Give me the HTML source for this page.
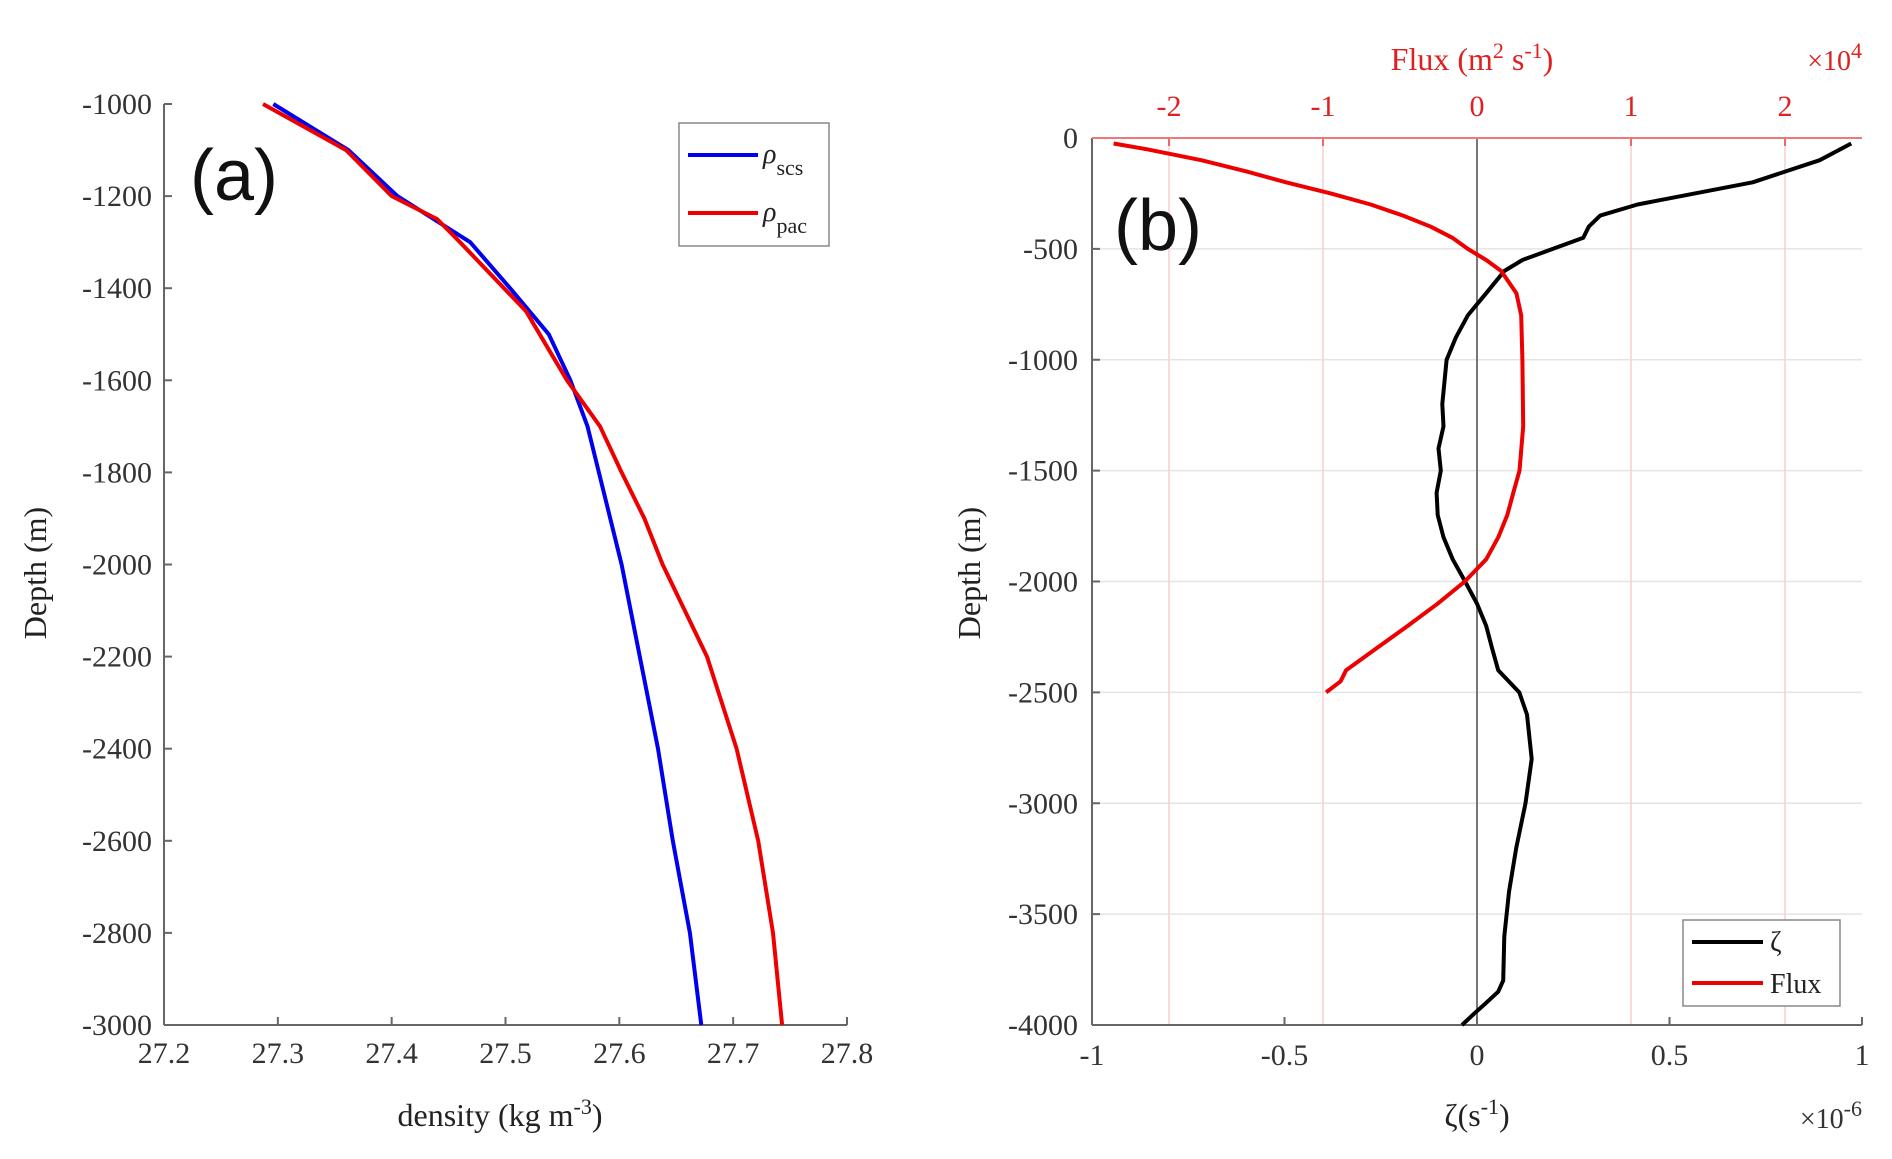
<!DOCTYPE html>
<html><head><meta charset="utf-8"><style>
html,body{margin:0;padding:0;background:#fff;}
svg{display:block;font-family:"Liberation Serif",serif;}
</style></head><body>
<svg id="c" width="1892" height="1159" viewBox="0 0 1892 1159"></svg>
<script>
// Panel (a) data
const depthA_scs = [-1000,-1100,-1200,-1300,-1400,-1500,-1600,-1700,-2000,-2200,-2400,-2600,-2800,-3000];
const rhoScs = [27.296,27.362,27.405,27.469,27.504,27.538,27.557,27.572,27.602,27.618,27.634,27.647,27.662,27.672];
const depthA_pac = [-1000,-1100,-1200,-1250,-1300,-1450,-1600,-1700,-1800,-1900,-2000,-2200,-2400,-2600,-2800,-3000];
const rhoPac = [27.287,27.36,27.40,27.44,27.46,27.518,27.554,27.583,27.602,27.622,27.638,27.677,27.703,27.722,27.735,27.743];
const aXTicks = [27.2,27.3,27.4,27.5,27.6,27.7,27.8];
const aYTicks = [-1000,-1200,-1400,-1600,-1800,-2000,-2200,-2400,-2600,-2800,-3000];
// Panel (b) data
const depthZeta = [-25,-100,-200,-300,-350,-400,-450,-500,-550,-600,-700,-800,-900,-1000,-1200,-1300,-1400,-1500,-1600,-1700,-1800,-1900,-2000,-2100,-2200,-2300,-2400,-2500,-2600,-2800,-3000,-3200,-3400,-3600,-3800,-3850,-3900,-3950,-4000];
const zeta = [0.972,0.89,0.716,0.417,0.32,0.29,0.276,0.197,0.118,0.071,0.024,-0.024,-0.055,-0.079,-0.09,-0.087,-0.1,-0.094,-0.105,-0.102,-0.087,-0.063,-0.031,0.0,0.024,0.039,0.055,0.11,0.13,0.142,0.126,0.102,0.083,0.071,0.068,0.055,0.024,-0.008,-0.039];
const depthFlux = [-25,-50,-100,-150,-200,-250,-300,-350,-400,-450,-500,-550,-600,-700,-800,-1000,-1300,-1500,-1600,-1700,-1800,-1900,-2000,-2100,-2200,-2300,-2400,-2450,-2500];
const flux = [-2.36,-2.15,-1.79,-1.5,-1.24,-0.95,-0.69,-0.48,-0.30,-0.16,-0.06,0.06,0.157,0.256,0.287,0.295,0.30,0.276,0.236,0.197,0.138,0.06,-0.079,-0.256,-0.45,-0.65,-0.85,-0.886,-0.98];
const bXTicks = [-1,-0.5,0,0.5,1];
const bXLabels = ['-1','-0.5','0','0.5','1'];
const bTopTicks = [-2,-1,0,1,2];
const bYTicks = [0,-500,-1000,-1500,-2000,-2500,-3000,-3500,-4000];

const svg = document.getElementById('c');
const NS = 'http://www.w3.org/2000/svg';
function mk(tag, attrs, parent){ const e=document.createElementNS(NS,tag); for(const k in attrs) e.setAttribute(k,attrs[k]); (parent||svg).appendChild(e); return e; }
function txt(s, attrs, parent){ const e=mk('text',attrs,parent); e.textContent=s; return e; }

// ---------- Panel A ----------
const A = {l:164,r:847,t:104,b:1025};
const ax = v => A.l + (v-27.2)/(27.8-27.2)*(A.r-A.l);
const ay = v => A.t + (v-(-1000))/(-3000-(-1000))*(A.b-A.t);
const gA = mk('g',{});


mk('line',{x1:A.l,y1:A.t,x2:A.l,y2:A.b,stroke:'#666','stroke-width':2},gA);
mk('line',{x1:A.l,y1:A.b,x2:A.r,y2:A.b,stroke:'#666','stroke-width':2},gA);
aYTicks.forEach(v=>{
  mk('line',{x1:A.l,y1:ay(v),x2:A.l+8,y2:ay(v),stroke:'#666','stroke-width':2},gA);
  const t=txt(String(v),{x:A.l-12,y:ay(v)+10,'text-anchor':'end','font-size':30,fill:'#333'},gA);
  
});
aXTicks.forEach(v=>{
  mk('line',{x1:ax(v),y1:A.b,x2:ax(v),y2:A.b-8,stroke:'#666','stroke-width':2},gA);
  const t=txt(v.toFixed(1),{x:ax(v),y:A.b+38,'text-anchor':'middle','font-size':30,fill:'#333'},gA);
  
});
function poly(xs, ys, fx, fy, color, name, parent){
  const p = xs.map((x,i)=>fx(x).toFixed(1)+','+fy(ys[i]).toFixed(1)).join(' ');
  const e = mk('polyline',{points:p,fill:'none',stroke:color,'stroke-width':4,'stroke-linejoin':'round'},parent);
  
  
}
poly(rhoScs, depthA_scs, ax, ay, '#0000ee', 'rho-scs-line', gA);
poly(rhoPac, depthA_pac, ax, ay, '#ee0000', 'rho-pac-line', gA);
const tA=txt('(a)',{x:190,y:200,'font-size':72,'font-family':'"Liberation Sans",sans-serif',fill:'#111'},gA);

const ylA=txt('Depth (m)',{x:0,y:0,'font-size':32,fill:'#222','text-anchor':'middle',transform:'translate(46,573) rotate(-90)'},gA);

const xlA=mk('text',{x:500,y:1126,'font-size':32,fill:'#222','text-anchor':'middle'},gA);
xlA.innerHTML='density (kg m<tspan dy="-12" font-size="22">-3</tspan><tspan dy="12">)</tspan>';

// legend A
const lgA = mk('g',{},gA);


mk('rect',{x:679,y:123,width:150,height:123,fill:'#fff',stroke:'#888','stroke-width':1.5},lgA);
mk('line',{x1:688,y1:155,x2:758,y2:155,stroke:'#0000ee','stroke-width':4},lgA);
mk('line',{x1:688,y1:213,x2:758,y2:213,stroke:'#ee0000','stroke-width':4},lgA);
const l1=mk('text',{x:763,y:163,'font-size':28,fill:'#222'},lgA);
l1.innerHTML='<tspan font-style="italic">ρ</tspan><tspan dy="12" font-size="22">scs</tspan>';

const l2=mk('text',{x:763,y:221,'font-size':28,fill:'#222'},lgA);
l2.innerHTML='<tspan font-style="italic">ρ</tspan><tspan dy="12" font-size="22">pac</tspan>';


// ---------- Panel B ----------
const B = {l:1092,r:1862,t:138,b:1025};
const bx = v => B.l + (v+1)/2*(B.r-B.l);
const bf = v => B.l + (v+2.5)/5*(B.r-B.l);
const by = v => B.t + (v/-4000)*(B.b-B.t);
const gB = mk('g',{});


bYTicks.forEach(v=>{
  const g=mk('line',{x1:B.l,y1:by(v),x2:B.r,y2:by(v),stroke:'#e4e4e4','stroke-width':1.5},gB);
  
  mk('line',{x1:B.l,y1:by(v),x2:B.l+8,y2:by(v),stroke:'#666','stroke-width':2},gB);
  const t=txt(String(v),{x:B.l-14,y:by(v)+10,'text-anchor':'end','font-size':30,fill:'#333'},gB);
  
});
bTopTicks.forEach(v=>{
  mk('line',{x1:bf(v),y1:B.t,x2:bf(v),y2:B.b,stroke:'#f6d0d0','stroke-width':1.5},gB);
  mk('line',{x1:bf(v),y1:B.t,x2:bf(v),y2:B.t+8,stroke:'#ee6666','stroke-width':2},gB);
  const t=txt(String(v),{x:bf(v),y:B.t-22,'text-anchor':'middle','font-size':30,fill:'#e02020'},gB);
  
});
mk('line',{x1:bx(0),y1:B.t,x2:bx(0),y2:B.b,stroke:'#777','stroke-width':2},gB);
mk('line',{x1:B.l,y1:B.t,x2:B.l,y2:B.b,stroke:'#666','stroke-width':2},gB);
mk('line',{x1:B.l,y1:B.b,x2:B.r,y2:B.b,stroke:'#666','stroke-width':2},gB);
mk('line',{x1:B.l,y1:B.t,x2:B.r,y2:B.t,stroke:'#ee7777','stroke-width':2},gB);
bXTicks.forEach((v,i)=>{
  mk('line',{x1:bx(v),y1:B.b,x2:bx(v),y2:B.b-8,stroke:'#666','stroke-width':2},gB);
  const t=txt(bXLabels[i],{x:bx(v),y:B.b+40,'text-anchor':'middle','font-size':30,fill:'#333'},gB);
  
});
poly(zeta, depthZeta, bx, by, '#000', 'zeta-line', gB);
poly(flux, depthFlux, bf, by, '#ee0000', 'flux-line', gB);
const tB=txt('(b)',{x:1114,y:250,'font-size':72,'font-family':'"Liberation Sans",sans-serif',fill:'#111'},gB);

const ylB=txt('Depth (m)',{x:0,y:0,'font-size':32,fill:'#222','text-anchor':'middle',transform:'translate(980,573) rotate(-90)'},gB);

const xlB=mk('text',{x:1477,y:1126,'font-size':32,fill:'#222','text-anchor':'middle'},gB);
xlB.innerHTML='ζ(s<tspan dy="-12" font-size="22">-1</tspan><tspan dy="12">)</tspan>';

const exB=mk('text',{x:1862,y:1128,'font-size':28,fill:'#333','text-anchor':'end'},gB);
exB.innerHTML='×10<tspan dy="-12" font-size="22">-6</tspan>';

const ftB=mk('text',{x:1472,y:70,'font-size':32,fill:'#e02020','text-anchor':'middle'},gB);
ftB.innerHTML='Flux (m<tspan dy="-12" font-size="22">2</tspan><tspan dy="12"> s</tspan><tspan dy="-12" font-size="22">-1</tspan><tspan dy="12">)</tspan>';

const etB=mk('text',{x:1862,y:70,'font-size':28,fill:'#e02020','text-anchor':'end'},gB);
etB.innerHTML='×10<tspan dy="-12" font-size="22">4</tspan>';

// legend B
const lgB = mk('g',{},gB);


mk('rect',{x:1683,y:920,width:157,height:86,fill:'#fff',stroke:'#888','stroke-width':1.5},lgB);
mk('line',{x1:1692,y1:942,x2:1763,y2:942,stroke:'#000','stroke-width':4},lgB);
mk('line',{x1:1692,y1:983,x2:1763,y2:983,stroke:'#ee0000','stroke-width':4},lgB);
const e1=txt('ζ',{x:1770,y:951,'font-size':28,fill:'#222'},lgB);

const e2=txt('Flux',{x:1770,y:993,'font-size':28,fill:'#222'},lgB);

</script>
</body></html>
